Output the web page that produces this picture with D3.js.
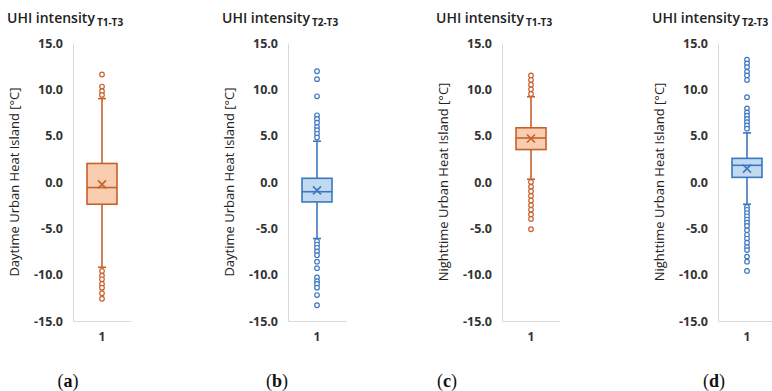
<!DOCTYPE html>
<html>
<head>
<meta charset="utf-8">
<script src="https://cdn.jsdelivr.net/npm/d3@7"></script>
<style>
  html, body { margin: 0; padding: 0; background: #fff; }
  svg { display: block; }
</style>
</head>
<body>
<svg id="chart" width="772" height="391"></svg>
<script>
// ---- data ---------------------------------------------------------------
const categories = ["1"];
const yTicks = [-15, -10, -5, 0, 5, 10, 15];

const panelTags = ["a", "b", "c", "d"];
const titleSubscripts = ["T1-T3", "T2-T3", "T1-T3", "T2-T3"];
const yTitles = [
  "Daytime Urban Heat Island [°C]",
  "Daytime Urban Heat Island [°C]",
  "Nighttime Urban Heat Island [°C]",
  "Nighttime Urban Heat Island [°C]"
];
const seriesKind = ["orange", "blue", "orange", "blue"];

// box-plot statistics per panel (°C)
const lowerWhisker = [-9.2, -6.1, 0.3, -2.4];
const q1 = [-2.4, -2.15, 3.5, 0.5];
const median = [-0.6, -1.05, 4.75, 1.8];
const q3 = [2.0, 0.4, 5.85, 2.55];
const upperWhisker = [9.0, 4.4, 9.2, 5.3];
const mean = [-0.25, -0.9, 4.7, 1.45];

// outliers per panel (°C)
const outliersA = [11.6, 10.3, 9.8, 9.4, -9.6, -10.1, -10.5, -11.0, -11.4, -12.0, -12.6];
const outliersB = [11.95, 11.1, 9.25, 7.2, 6.8, 6.4, 5.95, 5.6, 5.2, 4.8,
                   -6.4, -6.75, -7.1, -7.5, -7.9, -8.6, -9.3, -10.3, -10.7, -11.0, -11.4, -12.2, -13.3];
const outliersC = [11.5, 11.0, 10.5, 10.0, 9.5,
                   0.0, -0.5, -1.0, -1.5, -2.0, -2.5, -3.0, -3.5, -4.0, -5.1];
const outliersD = [13.2, 12.8, 12.4, 11.9, 11.5, 11.0, 9.15, 7.95, 7.5, 7.15, 6.8, 6.45, 6.1, 5.75,
                   -2.7, -3.0, -3.35, -3.7, -4.05, -4.4, -4.75, -5.2, -5.7, -6.1, -6.55, -7.0, -7.35, -8.05, -8.6, -9.6];
const outliers = [outliersA, outliersB, outliersC, outliersD];

// ---- layout & style -----------------------------------------------------
const axisX = [73, 288, 502, 718];     // x of each panel's value axis
const captionX = [68, 277, 447, 714];   // centre of the (a)…(d) captions
const plotTop = 43, plotBottom = 321, bandWidth = 58;
const boxWidth = 30, capWidth = 8, markSize = 4;

const palette = {
  orange: { stroke: "#c5622a", fill: "#f9cdb0" },
  blue:   { stroke: "#3b77c0", fill: "#c2daf0" }
};

const svg = d3.select("#chart");
const y = d3.scaleLinear().domain([-15, 15]).range([plotBottom, plotTop]);

panelTags.forEach((tag, i) => {
  const ax = axisX[i];
  const col = palette[seriesKind[i]];
  const x = d3.scaleBand().domain(categories).range([ax, ax + bandWidth]);
  const g = svg.append("g");

  // value axis
  const yAxis = g.append("g")
    .attr("transform", `translate(${ax},0)`)
    .call(d3.axisLeft(y).tickValues(yTicks).tickSize(0).tickPadding(10)
      .tickFormat(d => d.toFixed(1)));
  yAxis.select(".domain").attr("stroke", "#d9d9d9").attr("stroke-width", 1);
  yAxis.selectAll("text")
    .attr("font-family", "'Open Sans', sans-serif")
    .attr("font-weight", 700).attr("font-size", 12.5).attr("fill", "#333");

  // category axis
  const xAxis = g.append("g")
    .attr("transform", `translate(0,${plotBottom})`)
    .call(d3.axisBottom(x).tickSize(0).tickPadding(11));
  xAxis.select(".domain").attr("stroke", "#d9d9d9").attr("stroke-width", 1);
  xAxis.selectAll("text")
    .attr("font-family", "'Open Sans', sans-serif")
    .attr("font-weight", 700).attr("font-size", 12).attr("fill", "#333");

  // panel title with subscript
  const title = g.append("text")
    .attr("x", ax - 66).attr("y", 23)
    .attr("font-family", "'Open Sans', sans-serif")
    .attr("font-weight", 600).attr("font-size", 14).attr("fill", "#222");
  title.append("tspan").text("UHI intensity");
  title.append("tspan").attr("dx", 2).attr("dy", 3)
    .attr("font-size", 10).attr("font-weight", 700).text(titleSubscripts[i]);

  // axis title
  g.append("text")
    .attr("transform", `translate(${ax - 59},${y(0)}) rotate(-90)`)
    .attr("text-anchor", "middle").attr("dy", "0.35em")
    .attr("font-family", "'Open Sans', sans-serif")
    .attr("font-weight", 500).attr("font-size", 13).attr("fill", "#222")
    .text(yTitles[i]);

  // caption
  const cap = g.append("text")
    .attr("x", captionX[i]).attr("y", 387)
    .attr("text-anchor", "middle")
    .attr("font-family", "'Liberation Serif', serif")
    .attr("font-size", 18).attr("fill", "#111");
  cap.append("tspan").text("(");
  cap.append("tspan").attr("font-weight", 700).text(tag);
  cap.append("tspan").text(")");

  // box plot
  const cx = x(categories[0]) + x.bandwidth() / 2;
  const bp = g.append("g")
    .attr("stroke", col.stroke).attr("stroke-width", 1.6).attr("fill", "none");

  // whiskers
  bp.append("line").attr("x1", cx).attr("x2", cx)
    .attr("y1", y(upperWhisker[i])).attr("y2", y(q3[i]));
  bp.append("line").attr("x1", cx).attr("x2", cx)
    .attr("y1", y(q1[i])).attr("y2", y(lowerWhisker[i]));
  [upperWhisker[i], lowerWhisker[i]].forEach(v => {
    bp.append("line").attr("x1", cx - capWidth / 2).attr("x2", cx + capWidth / 2)
      .attr("y1", y(v)).attr("y2", y(v));
  });

  // box
  bp.append("rect")
    .attr("x", cx - boxWidth / 2).attr("width", boxWidth)
    .attr("y", y(q3[i])).attr("height", y(q1[i]) - y(q3[i]))
    .attr("fill", col.fill);
  bp.append("line")
    .attr("x1", cx - boxWidth / 2).attr("x2", cx + boxWidth / 2)
    .attr("y1", y(median[i])).attr("y2", y(median[i]));

  // mean marker
  const my = y(mean[i]);
  bp.append("path")
    .attr("d", `M${cx - markSize},${my - markSize}L${cx + markSize},${my + markSize}` +
               `M${cx - markSize},${my + markSize}L${cx + markSize},${my - markSize}`);

  // outliers
  bp.selectAll("circle.out").data(outliers[i]).join("circle")
    .attr("class", "out")
    .attr("cx", cx).attr("cy", d => y(d)).attr("r", 2.3)
    .attr("stroke-width", 1.2).attr("fill", "#fff");
});
</script>
</body>
</html>
